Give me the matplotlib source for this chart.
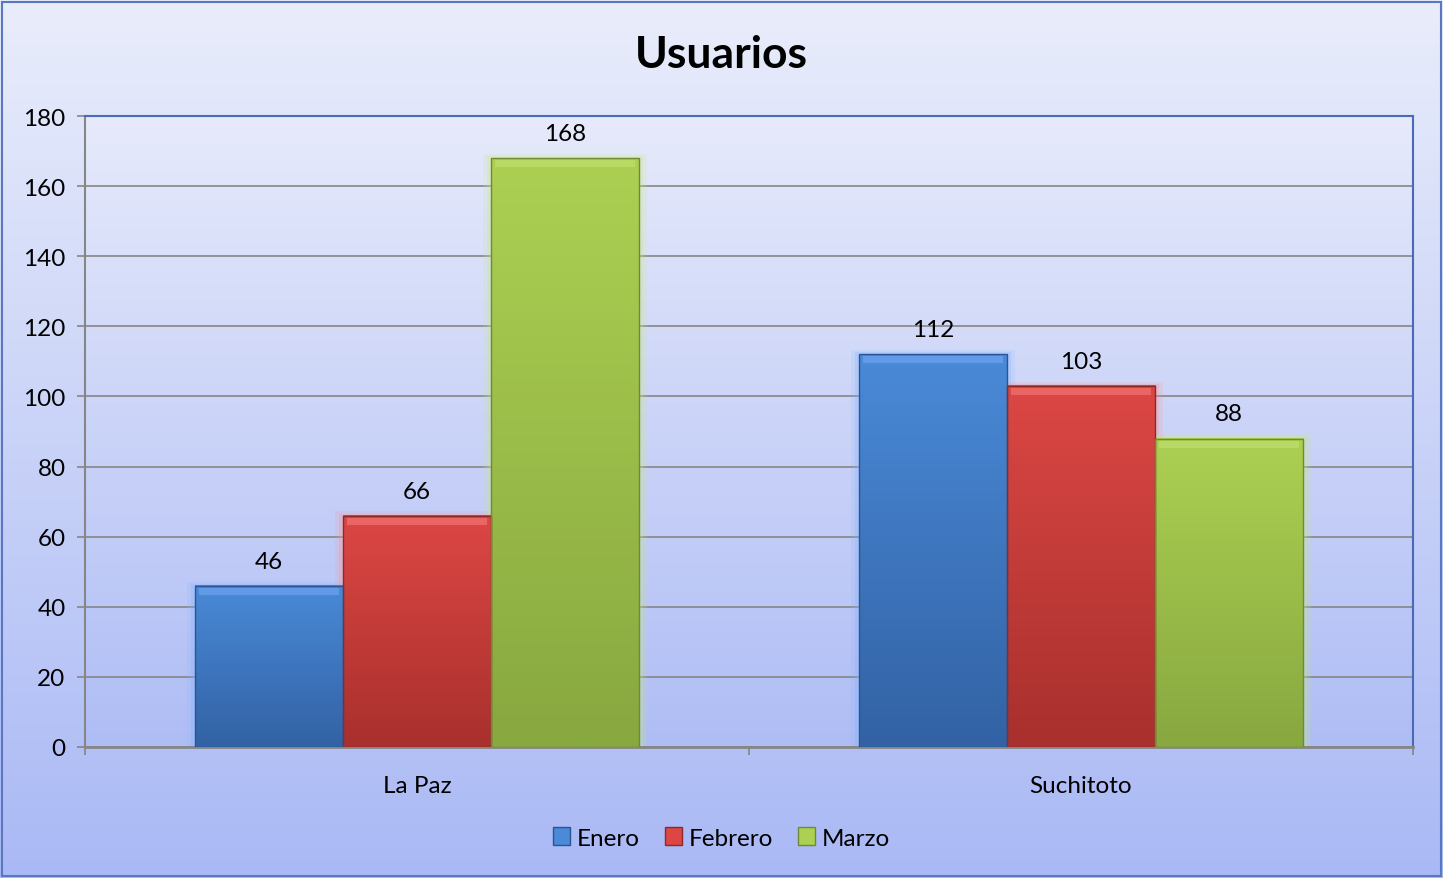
import numpy as np
import matplotlib.pyplot as plt
from matplotlib.colors import LinearSegmentedColormap
from matplotlib.patches import Patch

plt.rcParams['font.family'] = ['Lato', 'DejaVu Sans']

# data
categories = ['La Paz', 'Suchitoto']
series = ['Enero', 'Febrero', 'Marzo']
values = {
    'Enero': [46, 112],
    'Febrero': [66, 103],
    'Marzo': [168, 88],
}
yticks = [0, 20, 40, 60, 80, 100, 120, 140, 160, 180]

# top / bottom colours of each series gradient
bar_colors = {
    'Enero': ('#4a8ad8', '#3262a4'),
    'Febrero': ('#dc4744', '#a8302d'),
    'Marzo': ('#acd052', '#88a840'),
}
edge_colors = {'Enero': '#2b5490', 'Febrero': '#8c2a28', 'Marzo': '#6e8a32'}
glow_colors = {'Enero': '#7fb2ff', 'Febrero': '#ff8c8c', 'Marzo': '#c8e87e'}

fig = plt.figure(figsize=(14.43, 8.79), dpi=100)

# figure background gradient
bg = fig.add_axes([0, 0, 1, 1], zorder=-10)
grad = np.linspace(0, 1, 256).reshape(-1, 1)
bg_cmap = LinearSegmentedColormap.from_list('bg', ['#e9edfb', '#aab9f5'])
bg.imshow(grad, aspect='auto', cmap=bg_cmap, extent=[0, 1, 0, 1], origin='upper')
bg.set_xlim(0, 1)
bg.set_ylim(0, 1)
bg.axis('off')
bg.add_patch(plt.Rectangle((0.0015, 0.002), 0.997, 0.995, fill=False,
                           edgecolor='#5a78c0', lw=1.5))

W, H = 1443, 879
left, right, top, bottom = 85, 1413, 117, 748
ax = fig.add_axes([left / W, 1 - bottom / H, (right - left) / W, (bottom - top) / H])
ax.patch.set_alpha(0)

# plot-area gradient
pa_cmap = LinearSegmentedColormap.from_list('pa', ['#e6eafb', '#afbdf5'])
ax.imshow(grad, aspect='auto', cmap=pa_cmap, extent=[-0.5, 1.5, 0, 180],
          origin='upper', zorder=0)

ax.set_xlim(-0.5, 1.5)
ax.set_ylim(0, 180)
ax.set_yticks(yticks)
ax.yaxis.grid(True, color='#868686', lw=1.2, zorder=1)
ax.set_axisbelow(True)

bw = 0.223
offsets = [-bw, 0, bw]
x = np.arange(len(categories))
handles = []
for s, off in zip(series, offsets):
    c_top, c_bot = bar_colors[s]
    cmap = LinearSegmentedColormap.from_list(s, [c_top, c_bot])
    for xi, v in zip(x + off, values[s]):
        # soft glow
        for k, a in [(0.012, 0.15), (0.006, 0.25)]:
            ax.add_patch(plt.Rectangle((xi - bw / 2 - k, 0), bw + 2 * k, v + k * 100,
                                       facecolor=glow_colors[s], alpha=a,
                                       edgecolor='none', zorder=2))
        ax.imshow(grad, aspect='auto', cmap=cmap, origin='upper',
                  extent=[xi - bw / 2, xi + bw / 2, 0, v], zorder=3)
        ax.bar(xi, v, bw, facecolor='none', edgecolor=edge_colors[s], lw=1.0, zorder=4)
        # bevel highlight on top
        ax.add_patch(plt.Rectangle((xi - bw / 2 + 0.006, v - 2.6), bw - 0.012, 2.0,
                                   facecolor=glow_colors[s], alpha=0.45, edgecolor='none',
                                   zorder=5))
        ax.text(xi, v + 4, str(v), ha='center', va='bottom', fontsize=17.5, color='#000000')
    handles.append(Patch(facecolor=c_top, edgecolor=edge_colors[s], label=s))

ax.set_xticks(x)
ax.set_xticklabels(categories, fontsize=17.5)
ax.tick_params(axis='x', which='major', length=0, pad=20)
ax.set_xticks([-0.5, 0.5, 1.5], minor=True)
ax.tick_params(axis='x', which='minor', length=6, color='#868686', width=1.2)
ax.tick_params(axis='y', labelsize=17.5, length=6, color='#868686', width=1.2, pad=8)

for side in ['top', 'right']:
    ax.spines[side].set_color('#4a6ab8')
    ax.spines[side].set_linewidth(1.5)
ax.spines['left'].set_color('#868686')
ax.spines['left'].set_linewidth(1.5)
ax.spines['bottom'].set_color('#868686')
ax.spines['bottom'].set_linewidth(2)

fig.text(0.5, 1 - 55 / H, 'Usuarios', ha='center', va='center', fontsize=32,
         fontweight='bold')

fig.legend(handles=handles, loc='center', bbox_to_anchor=(0.5, 1 - 839 / H), ncol=3,
           frameon=False, fontsize=17.5, handlelength=0.7, handleheight=0.7,
           handletextpad=0.3, columnspacing=1.0)

fig.savefig('out.png', dpi=100)
